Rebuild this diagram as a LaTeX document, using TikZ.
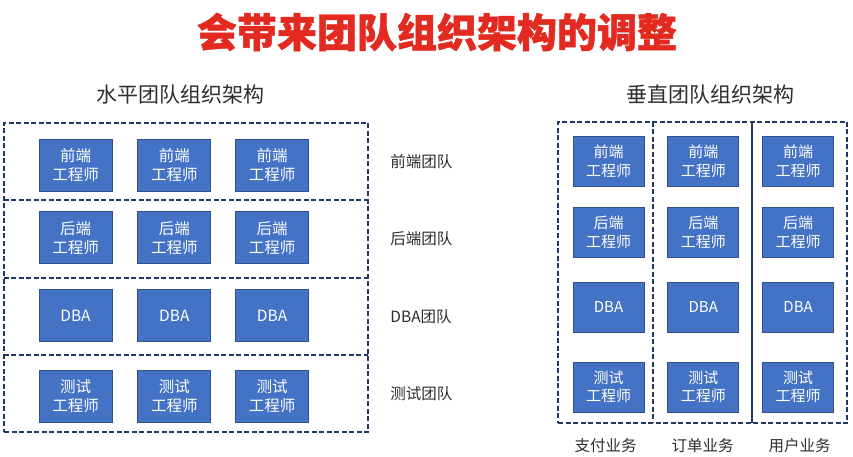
\documentclass[tikz,border=0pt]{standalone}
\usepackage{fontspec}
\setmainfont{Noto Sans CJK SC}
\newfontfamily\headfont[BoldFeatures={FakeBold=1.2}]{Noto Sans CJK SC}
\usetikzlibrary{positioning}

\definecolor{titlered}{RGB}{226,42,32}
\definecolor{boxblue}{RGB}{68,114,196}
\definecolor{boxedge}{RGB}{47,82,143}
\definecolor{framenavy}{RGB}{32,56,100}
\definecolor{labelgray}{RGB}{45,45,45}

\begin{document}
\begin{tikzpicture}[
    x=1pt, y=-1pt,
    %% -- Node styles ------------------------------------------------------
    %%
    %% engineer: filled blue box holding one role, white text.
    engineer/.style={
        draw=boxedge,
        fill=boxblue,
        line width=0.8pt,
        text=white,
        minimum width=73pt,
        minimum height=52pt,
        inner sep=0pt,
        align=center,
        font=\fontsize{15.5}{19}\selectfont,
    },
    vengineer/.style={engineer, minimum width=71pt, minimum height=50pt, font=\fontsize{15}{18.5}\selectfont},
    %% -- Frames and dividers ----------------------------------------------
    frame/.style={draw=framenavy, dash pattern=on 5pt off 2.5pt, line width=1.5pt, inner sep=0pt},
    divider/.style={draw=framenavy, dash pattern=on 5pt off 2.5pt, line width=1.5pt},
    solidline/.style={draw=framenavy, line width=1.5pt},
    band/.style={inner sep=0pt},
    %% -- Text styles ------------------------------------------------------
    teamlabel/.style={font=\fontsize{15.5}{18}\selectfont, text=labelgray, inner sep=0pt},
    subtitle/.style={font=\fontsize{21}{24}\selectfont, text=labelgray, inner sep=0pt},
    headline/.style={font=\headfont\fontsize{40}{44}\selectfont\bfseries, text=titlered, inner sep=0pt},
]
\useasboundingbox (0,0) rectangle (853,457);

%% -- Titles ---------------------------------------------------------------

\node[headline] (Title) at (437,32) {会带来团队组织架构的调整};
\node[subtitle] (H_Title) at (180,95) {水平团队组织架构};
\node[subtitle] (V_Title) at (710,95) {垂直团队组织架构};

%% -- Horizontal: frame and bands -----------------------------------------

\node[frame, minimum width=364pt, minimum height=309pt] (H_Frame) at (186,277.5) {};
\node[band, minimum width=364pt, minimum height=77pt] (H_Front_Band) at (186,161.5) {};
\node[band, minimum width=364pt, minimum height=78pt] (H_Back_Band)  at (186,239) {};
\node[band, minimum width=364pt, minimum height=77pt] (H_DBA_Band)   at (186,316.5) {};
\node[band, minimum width=364pt, minimum height=77pt] (H_Test_Band)  at (186,393.5) {};

\draw[divider] (H_Front_Band.south west) -- (H_Front_Band.south east);
\draw[divider] (H_Back_Band.south west) -- (H_Back_Band.south east);
\draw[divider] (H_DBA_Band.south west) -- (H_DBA_Band.south east);

%% -- Horizontal: engineers -----------------------------------------------

\node[engineer] at (75.5,165)                 (H_Front_1) {前端\\工程师};
\node[engineer, right=25pt of H_Front_1]      (H_Front_2) {前端\\工程师};
\node[engineer, right=24pt of H_Front_2]      (H_Front_3) {前端\\工程师};

\node[engineer, below=20pt of H_Front_1]      (H_Back_1) {后端\\工程师};
\node[engineer, right=25pt of H_Back_1]       (H_Back_2) {后端\\工程师};
\node[engineer, right=24pt of H_Back_2]       (H_Back_3) {后端\\工程师};

\node[engineer, below=25pt of H_Back_1]       (H_DBA_1) {DBA};
\node[engineer, right=25pt of H_DBA_1]        (H_DBA_2) {DBA};
\node[engineer, right=24pt of H_DBA_2]        (H_DBA_3) {DBA};

\node[engineer, below=28pt of H_DBA_1]        (H_Test_1) {测试\\工程师};
\node[engineer, right=25pt of H_Test_1]       (H_Test_2) {测试\\工程师};
\node[engineer, right=24pt of H_Test_2]       (H_Test_3) {测试\\工程师};

%% -- Horizontal: team labels ---------------------------------------------

\node[teamlabel, anchor=west, right=22pt of H_Front_Band] {前端团队};
\node[teamlabel, anchor=west, right=22pt of H_Back_Band]  {后端团队};
\node[teamlabel, anchor=west, right=22pt of H_DBA_Band]   {DBA团队};
\node[teamlabel, anchor=west, right=22pt of H_Test_Band]  {测试团队};

%% -- Vertical: frame and columns -----------------------------------------

\node[frame, minimum width=289pt, minimum height=301pt] (V_Frame) at (702.5,272.5) {};
\node[band, minimum width=95pt, minimum height=301pt] (V_Pay_Col)   at (605.5,272.5) {};
\node[band, minimum width=99pt, minimum height=301pt] (V_Order_Col) at (702.5,272.5) {};
\node[band, minimum width=95pt, minimum height=301pt] (V_User_Col)  at (799.5,272.5) {};

\draw[divider]   (V_Pay_Col.north east) -- (V_Pay_Col.south east);
\draw[solidline] (V_User_Col.north west) -- (V_User_Col.south west);

%% -- Vertical: engineers -------------------------------------------------

\node[vengineer] at (608.5,161.5)             (V_Pay_Front) {前端\\工程师};
\node[vengineer, below=20pt of V_Pay_Front]   (V_Pay_Back)  {后端\\工程师};
\node[vengineer, below=24pt of V_Pay_Back]    (V_Pay_DBA)   {DBA};
\node[vengineer, below=29pt of V_Pay_DBA]     (V_Pay_Test)  {测试\\工程师};

\node[vengineer, right=23pt of V_Pay_Front]   (V_Order_Front) {前端\\工程师};
\node[vengineer, right=23pt of V_Pay_Back]    (V_Order_Back)  {后端\\工程师};
\node[vengineer, right=23pt of V_Pay_DBA]     (V_Order_DBA)   {DBA};
\node[vengineer, right=23pt of V_Pay_Test]    (V_Order_Test)  {测试\\工程师};

\node[vengineer, right=23pt of V_Order_Front] (V_User_Front) {前端\\工程师};
\node[vengineer, right=23pt of V_Order_Back]  (V_User_Back)  {后端\\工程师};
\node[vengineer, right=23pt of V_Order_DBA]   (V_User_DBA)   {DBA};
\node[vengineer, right=23pt of V_Order_Test]  (V_User_Test)  {测试\\工程师};

%% -- Vertical: business labels -------------------------------------------

\node[teamlabel, below=15pt of V_Pay_Col]   {支付业务};
\node[teamlabel, below=15pt of V_Order_Col] {订单业务};
\node[teamlabel, below=15pt of V_User_Col]  {用户业务};

\end{tikzpicture}
\end{document}
